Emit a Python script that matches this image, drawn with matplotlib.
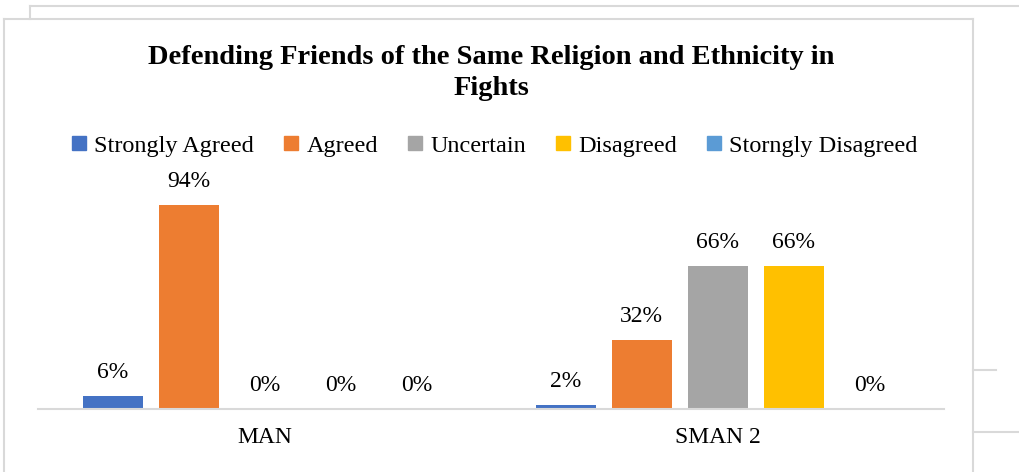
import numpy as np
import matplotlib
matplotlib.use('Agg')
import matplotlib.pyplot as plt
from matplotlib.lines import Line2D
from matplotlib.patches import Patch

schools = ['MAN', 'SMAN 2']
responses = ['Strongly Agreed', 'Agreed', 'Uncertain', 'Disagreed', 'Storngly Disagreed']
man = [6, 94, 0, 0, 0]
sman2 = [2, 32, 66, 66, 0]
colors = ['#4472C4', '#ED7D31', '#A5A5A5', '#FFC000', '#5B9BD5']


def main() -> None:
    plt.rcParams['font.family'] = ['Liberation Serif', 'DejaVu Serif']
    fig = plt.figure(figsize=(10.19, 4.72), dpi=100)
    W, H = 1019, 472

    # frame lines of the screenshot
    def px_line(x0, y0, x1, y1):
        fig.add_artist(Line2D([x0 / W, x1 / W], [1 - y0 / H, 1 - y1 / H],
                              color='#d9d9d9', lw=1.5, transform=fig.transFigure))
    px_line(30, 6, 1019, 6)
    px_line(30, 6, 30, 19)
    px_line(4, 19, 973, 19)
    px_line(4, 19, 4, 472)
    px_line(973, 19, 973, 472)
    px_line(973, 370, 996, 370)
    px_line(973, 432, 1019, 432)

    ax = fig.add_axes([38 / W, (H - 409) / H, 906 / W, 217 / H])
    values = np.array([man, sman2])
    x = np.arange(len(schools))
    width = 60 / 453
    pitch = 76 / 453
    for i, (name, c) in enumerate(zip(responses, colors)):
        pos = x + (i - 2) * pitch
        bars = ax.bar(pos, values[:, i], width, color=c, label=name)
        for b, v in zip(bars, values[:, i]):
            ax.text(b.get_x() + b.get_width() / 2, v + 6, f'{v}%',
                    ha='center', va='bottom', fontsize=17)

    ax.set_xlim(-0.5, 1.5)
    ax.set_ylim(0, 100)
    ax.set_yticks([])
    ax.set_xticks(x)
    ax.set_xticklabels(schools, fontsize=17)
    ax.tick_params(axis='x', length=0, pad=13)
    for s in ['top', 'right', 'left']:
        ax.spines[s].set_visible(False)
    ax.spines['bottom'].set_color('#d9d9d9')
    ax.spines['bottom'].set_linewidth(1.5)

    fig.text(491 / W, 1 - 73 / H,
             'Defending Friends of the Same Religion and Ethnicity in\nFights',
             ha='center', va='center', fontsize=20.5, fontweight='bold',
             linespacing=1.35)

    handles = [Patch(color=c) for c in colors]
    fig.legend(handles, responses, loc='center', bbox_to_anchor=(495 / W, 1 - 146 / H),
               ncol=5, frameon=False, fontsize=17.5, handlelength=0.55,
               handleheight=0.55, handletextpad=0.35, columnspacing=1.25,
               borderaxespad=0)

    plt.savefig('out.png', dpi=100)
    return


if __name__ == '__main__':
    main()
